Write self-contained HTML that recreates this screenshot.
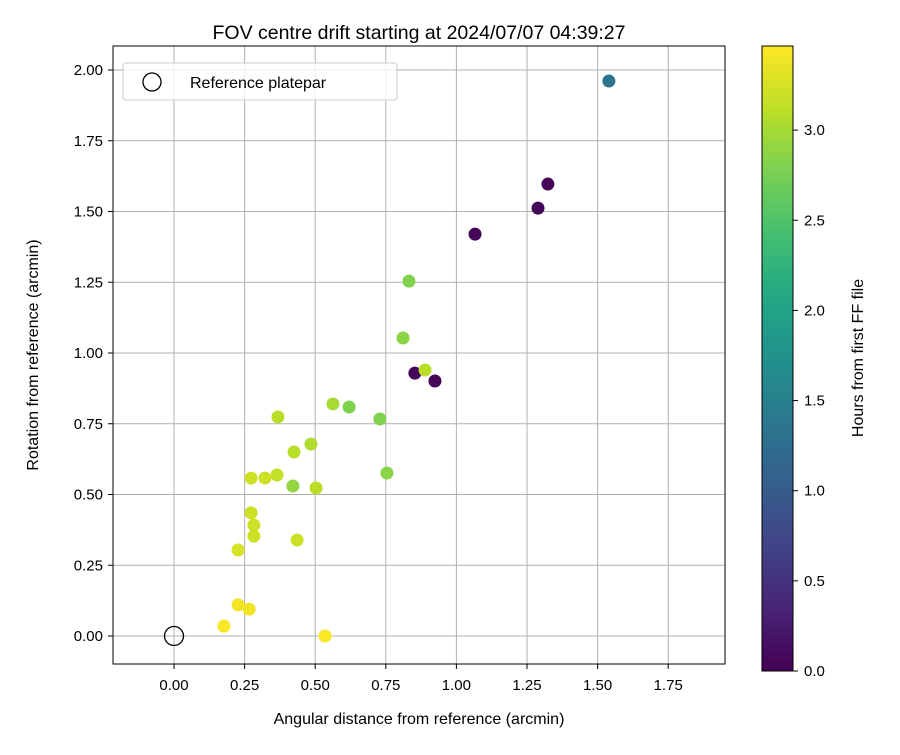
<!DOCTYPE html>
<html><head><meta charset="utf-8"><style>
body{margin:0;background:#fff}
svg text{font-family:"Liberation Sans","DejaVu Sans",sans-serif;fill:#000}
</style></head><body>
<svg id="c" width="900" height="750" xmlns="http://www.w3.org/2000/svg">
<defs><linearGradient id="vir" x1="0" y1="1" x2="0" y2="0">
<stop offset="0" stop-color="#440154"/><stop offset="0.1" stop-color="#482475"/><stop offset="0.2" stop-color="#414487"/><stop offset="0.3" stop-color="#355f8d"/><stop offset="0.4" stop-color="#2a788e"/><stop offset="0.5" stop-color="#21918c"/><stop offset="0.6" stop-color="#22a884"/><stop offset="0.7" stop-color="#44bf70"/><stop offset="0.8" stop-color="#7ad151"/><stop offset="0.9" stop-color="#bddf26"/><stop offset="1" stop-color="#fde725"/></linearGradient></defs>
<g id="grid"></g>
<g id="pts"></g>
<rect x="113" y="46" width="612" height="618" fill="none" stroke="#000" stroke-width="1"/>
<g id="ticks"></g>
<text x="419" y="39" font-size="19.5" text-anchor="middle">FOV centre drift starting at 2024/07/07 04:39:27</text>
<text x="419" y="724" font-size="16" text-anchor="middle">Angular distance from reference (arcmin)</text>
<text transform="translate(38,355) rotate(-90)" font-size="16" text-anchor="middle">Rotation from reference (arcmin)</text>
<g>
<rect x="123" y="63" width="274" height="37" rx="3" fill="#fff" fill-opacity="0.8" stroke="#ccc"/>
<circle cx="152" cy="82" r="9" fill="none" stroke="#000" stroke-width="1.3"/>
<text x="190" y="88" font-size="16">Reference platepar</text>
</g>
<rect x="762" y="46" width="31" height="625" fill="url(#vir)" stroke="#000"/>
<g id="cbt"></g>
<text transform="translate(863,358) rotate(-90)" font-size="16" text-anchor="middle">Hours from first FF file</text>
</svg>
<script>
const xs=[1.540,1.324,1.289,1.066,0.832,0.811,0.853,0.889,0.924,0.563,0.620,0.368,0.729,0.485,0.425,0.754,0.365,0.273,0.322,0.421,0.503,0.273,0.283,0.283,0.436,0.227,0.227,0.266,0.177,0.535];
const ys=[1.961,1.597,1.512,1.420,1.254,1.053,0.929,0.940,0.901,0.820,0.809,0.774,0.767,0.678,0.650,0.576,0.569,0.558,0.558,0.530,0.523,0.435,0.392,0.353,0.339,0.304,0.110,0.095,0.035,0.000];
const hours=[1.35,0.05,0.05,0.05,2.8,2.85,0.05,3.1,0.05,3.0,2.8,3.1,2.8,3.05,3.1,2.85,3.15,3.2,3.2,2.9,3.1,3.2,3.2,3.2,3.2,3.25,3.4,3.4,3.45,3.45];
const xTicks=[0,0.25,0.5,0.75,1,1.25,1.5,1.75];
const yTicks=[0,0.25,0.5,0.75,1,1.25,1.5,1.75,2];
const cTicks=[0,0.5,1,1.5,2,2.5,3];
const X=v=>174+v*282.4, Y=v=>636-v*283, C=v=>671-v*180.3;
const cmax=3.466;
const vir=["#440154","#482475","#414487","#355f8d","#2a788e","#21918c","#22a884","#44bf70","#7ad151","#bddf26","#fde725"];
function hex(h){return [1,3,5].map(i=>parseInt(h.substr(i,2),16));}
function col(h){let t=Math.max(0,Math.min(1,h/cmax))*10,i=Math.min(9,Math.floor(t)),f=t-i,a=hex(vir[i]),b=hex(vir[i+1]);return "rgb("+a.map((v,k)=>Math.round(v+(b[k]-v)*f)).join(",")+")";}
const NS="http://www.w3.org/2000/svg";
function mk(p,tag,at){const e=document.createElementNS(NS,tag);for(const k in at)e.setAttribute(k,at[k]);document.getElementById(p).appendChild(e);return e;}
xTicks.forEach(v=>{
 let l=mk("grid","line",{x1:X(v),x2:X(v),y1:46,y2:664,stroke:"#b0b0b0"});
 
 
 mk("ticks","line",{x1:X(v),x2:X(v),y1:664,y2:669,stroke:"#000"});
 let t=mk("ticks","text",{x:X(v),y:690,"font-size":"15","text-anchor":"middle"});t.textContent=v.toFixed(2);
 
 
});
yTicks.forEach(v=>{
 let l=mk("grid","line",{x1:113,x2:725,y1:Y(v),y2:Y(v),stroke:"#b0b0b0"});
 
 
 mk("ticks","line",{x1:108,x2:113,y1:Y(v),y2:Y(v),stroke:"#000"});
 let t=mk("ticks","text",{x:103,y:Y(v)+5,"font-size":"15","text-anchor":"end"});t.textContent=v.toFixed(2);
 
 
});
cTicks.forEach(v=>{
 mk("cbt","line",{x1:793,x2:798,y1:C(v),y2:C(v),stroke:"#000"});
 let t=mk("cbt","text",{x:804,y:C(v)+5,"font-size":"15"});t.textContent=v.toFixed(1);
 
 
});
xs.forEach((x,i)=>{
 let c=mk("pts","circle",{cx:X(x),cy:Y(ys[i]),r:6.5,fill:col(hours[i])});
 
 
});
let r=mk("pts","circle",{cx:X(0),cy:Y(0),r:9.5,fill:"none",stroke:"#000","stroke-width":1.3});


</script>
</body></html>
